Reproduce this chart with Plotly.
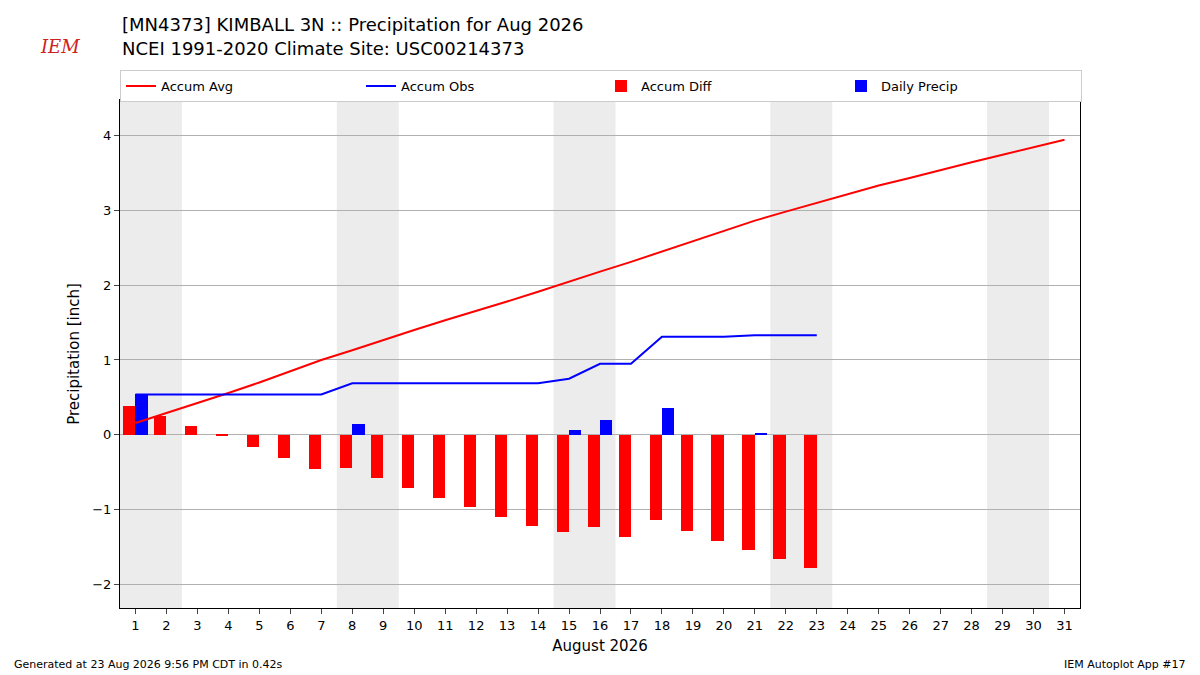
import plotly.graph_objects as go

days = list(range(1, 32))
accum_avg = [0.16,0.29,0.42,0.56,0.70,0.85,1.00,1.13,1.27,1.40,1.53,1.65,1.78,1.91,2.05,2.18,2.31,2.45,2.59,2.72,2.86,2.98,3.10,3.22,3.33,3.43,3.54,3.64,3.74,3.84,3.94]
obs_days = list(range(1, 24))
accum_obs = [0.54]*7 + [0.69]*7 + [0.75,0.95,0.95,1.31,1.31,1.31,1.33,1.33,1.33]
accum_diff = [0.38,0.25,0.12,-0.02,-0.16,-0.31,-0.46,-0.44,-0.58,-0.71,-0.84,-0.96,-1.09,-1.22,-1.30,-1.23,-1.36,-1.14,-1.28,-1.41,-1.53,-1.65,-1.77]
daily_precip = [0.54,0,0,0,0,0,0,0.15,0,0,0,0,0,0,0.06,0.20,0,0.36,0,0,0.02,0,0]
weekends = [(0.5,2.5),(7.5,9.5),(14.5,16.5),(21.5,23.5),(28.5,30.5)]

fig = go.Figure()
fig.add_trace(go.Scatter(x=days, y=accum_avg, mode="lines", line=dict(color="red", width=2), name="Accum Avg"))
fig.add_trace(go.Scatter(x=obs_days, y=accum_obs, mode="lines", line=dict(color="blue", width=2), name="Accum Obs"))
fig.add_trace(go.Bar(x=[d-0.2 for d in obs_days], y=accum_diff, width=0.4, marker=dict(color="red", line_width=0), name="Accum Diff"))
fig.add_trace(go.Bar(x=[d+0.2 for d in obs_days], y=daily_precip, width=0.4, marker=dict(color="blue", line_width=0), name="Daily Precip"))

for a, b in weekends:
    fig.add_vrect(x0=a, x1=b, fillcolor="#ececec", line_width=0, layer="below")

fig.update_layout(
    width=1192, height=667, template="none", plot_bgcolor="white", paper_bgcolor="white",
    margin=dict(l=112, r=120, t=92, b=67, autoexpand=False),
    font=dict(family="DejaVu Sans", size=13, color="black"),
    barmode="overlay", bargap=0,
    legend=dict(orientation="h", x=0, y=1.059, xanchor="left", yanchor="top",
                entrywidth=195, bordercolor="#cccccc", borderwidth=1, font=dict(size=13)),
    xaxis=dict(range=[0.5, 31.5], tickmode="array", tickvals=days, ticktext=[str(d) for d in days],
               showgrid=False, showline=True, linecolor="black", mirror=True, ticks="outside",
               title=dict(text="August 2026", font=dict(size=15), standoff=8), zeroline=False, automargin=False),
    yaxis=dict(range=[-2.31, 4.47], tickvals=[-2,-1,0,1,2,3,4], ticktext=["−2","−1","0","1","2","3","4"],
               showgrid=True, gridcolor="#b0b0b0", showline=True, linecolor="black", mirror=True, automargin=False,
               ticks="outside", zeroline=False, title=dict(text="Precipitation [inch]", font=dict(size=15), standoff=8)),
)
fig.add_annotation(xref="paper", yref="paper", x=0, y=1.148, xanchor="left", yanchor="middle", showarrow=False,
                   text="[MN4373] KIMBALL 3N :: Precipitation for Aug 2026", font=dict(size=18))
fig.add_annotation(xref="paper", yref="paper", x=0, y=1.102, xanchor="left", yanchor="middle", showarrow=False,
                   text="NCEI 1991-2020 Climate Site: USC00214373", font=dict(size=18))
fig.add_annotation(xref="paper", yref="paper", x=-0.085, y=1.13, showarrow=False,
                   text="<i>IEM</i>", font=dict(size=18, color="#cc2222", family="DejaVu Serif"))
fig.add_annotation(xref="paper", yref="paper", x=-0.113, y=-0.112, xanchor="left", yanchor="middle", showarrow=False,
                   text="Generated at 23 Aug 2026 9:56 PM CDT in 0.42s", font=dict(size=11))
fig.add_annotation(xref="paper", yref="paper", x=1.113, y=-0.112, xanchor="right", yanchor="middle", showarrow=False,
                   text="IEM Autoplot App #17", font=dict(size=11))
fig.write_html("out.html")
